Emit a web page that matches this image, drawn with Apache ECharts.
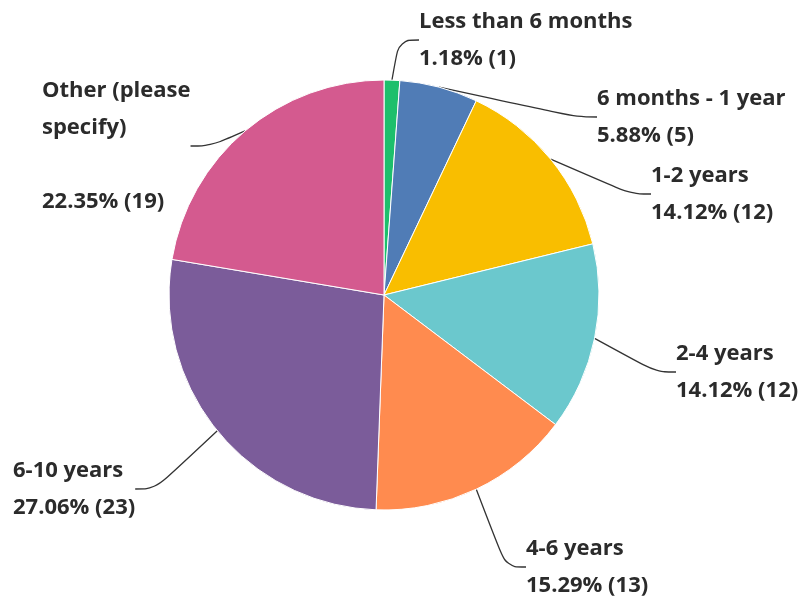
<!DOCTYPE html>
<html>
<head>
<meta charset="utf-8">
<script src="https://cdn.jsdelivr.net/npm/echarts@6/dist/echarts.min.js"></script>
<style>
html,body{margin:0;padding:0;background:#fff;}
#chart{width:806px;height:597px;}
</style>
</head>
<body>
<div id="chart"></div>
<script>
const categories = ["Less than 6 months","6 months - 1 year","1-2 years","2-4 years","4-6 years","6-10 years","Other (please specify)"];
const counts = [1, 5, 12, 12, 13, 23, 19];
const percents = ["1.18%","5.88%","14.12%","14.12%","15.29%","27.06%","22.35%"];
const colors = ["#1dbf6c","#507cb6","#f9be00","#6bc8cd","#ff8b4f","#7b5c9a","#d45a8f"];

// label block top-left positions (layout only)
const labelSpots = [[419,3],[597,80],[651,157],[676,335],[526,530],[13,452],[42,72]];

const chart = echarts.init(document.getElementById('chart'));
chart.setOption({
  animation:false,
  series:[{
    type:'pie',
    center:[384,295],
    radius:[0,215],
    startAngle:90,
    clockwise:true,
    avoidLabelOverlap:false,
    itemStyle:{borderColor:'#fff',borderWidth:1},
    label:{
      show:true,
      position:'outside',
      color:'#2b2b2b',
      fontFamily:'Open Sans',
      fontWeight:'bold',
      fontSize:22,
      lineHeight:37,
      align:'left',
      formatter:function(p){
        const i = p.dataIndex;
        if (i === 6) return 'Other (please\nspecify)\n\n' + percents[i] + ' (' + counts[i] + ')';
        return categories[i] + '\n' + percents[i] + ' (' + counts[i] + ')';
      }
    },
    labelLine:{show:true,smooth:0.4,length:20,length2:20,lineStyle:{color:'#333',width:1.3}},
    labelLayout:function(params){
      const s = labelSpots[params.dataIndex];
      return {x:s[0], y:s[1], align:'left', verticalAlign:'top'};
    },
    data: categories.map((c,i)=>({name:c,value:counts[i],itemStyle:{color:colors[i]}}))
  }]
});
</script>
</body>
</html>
